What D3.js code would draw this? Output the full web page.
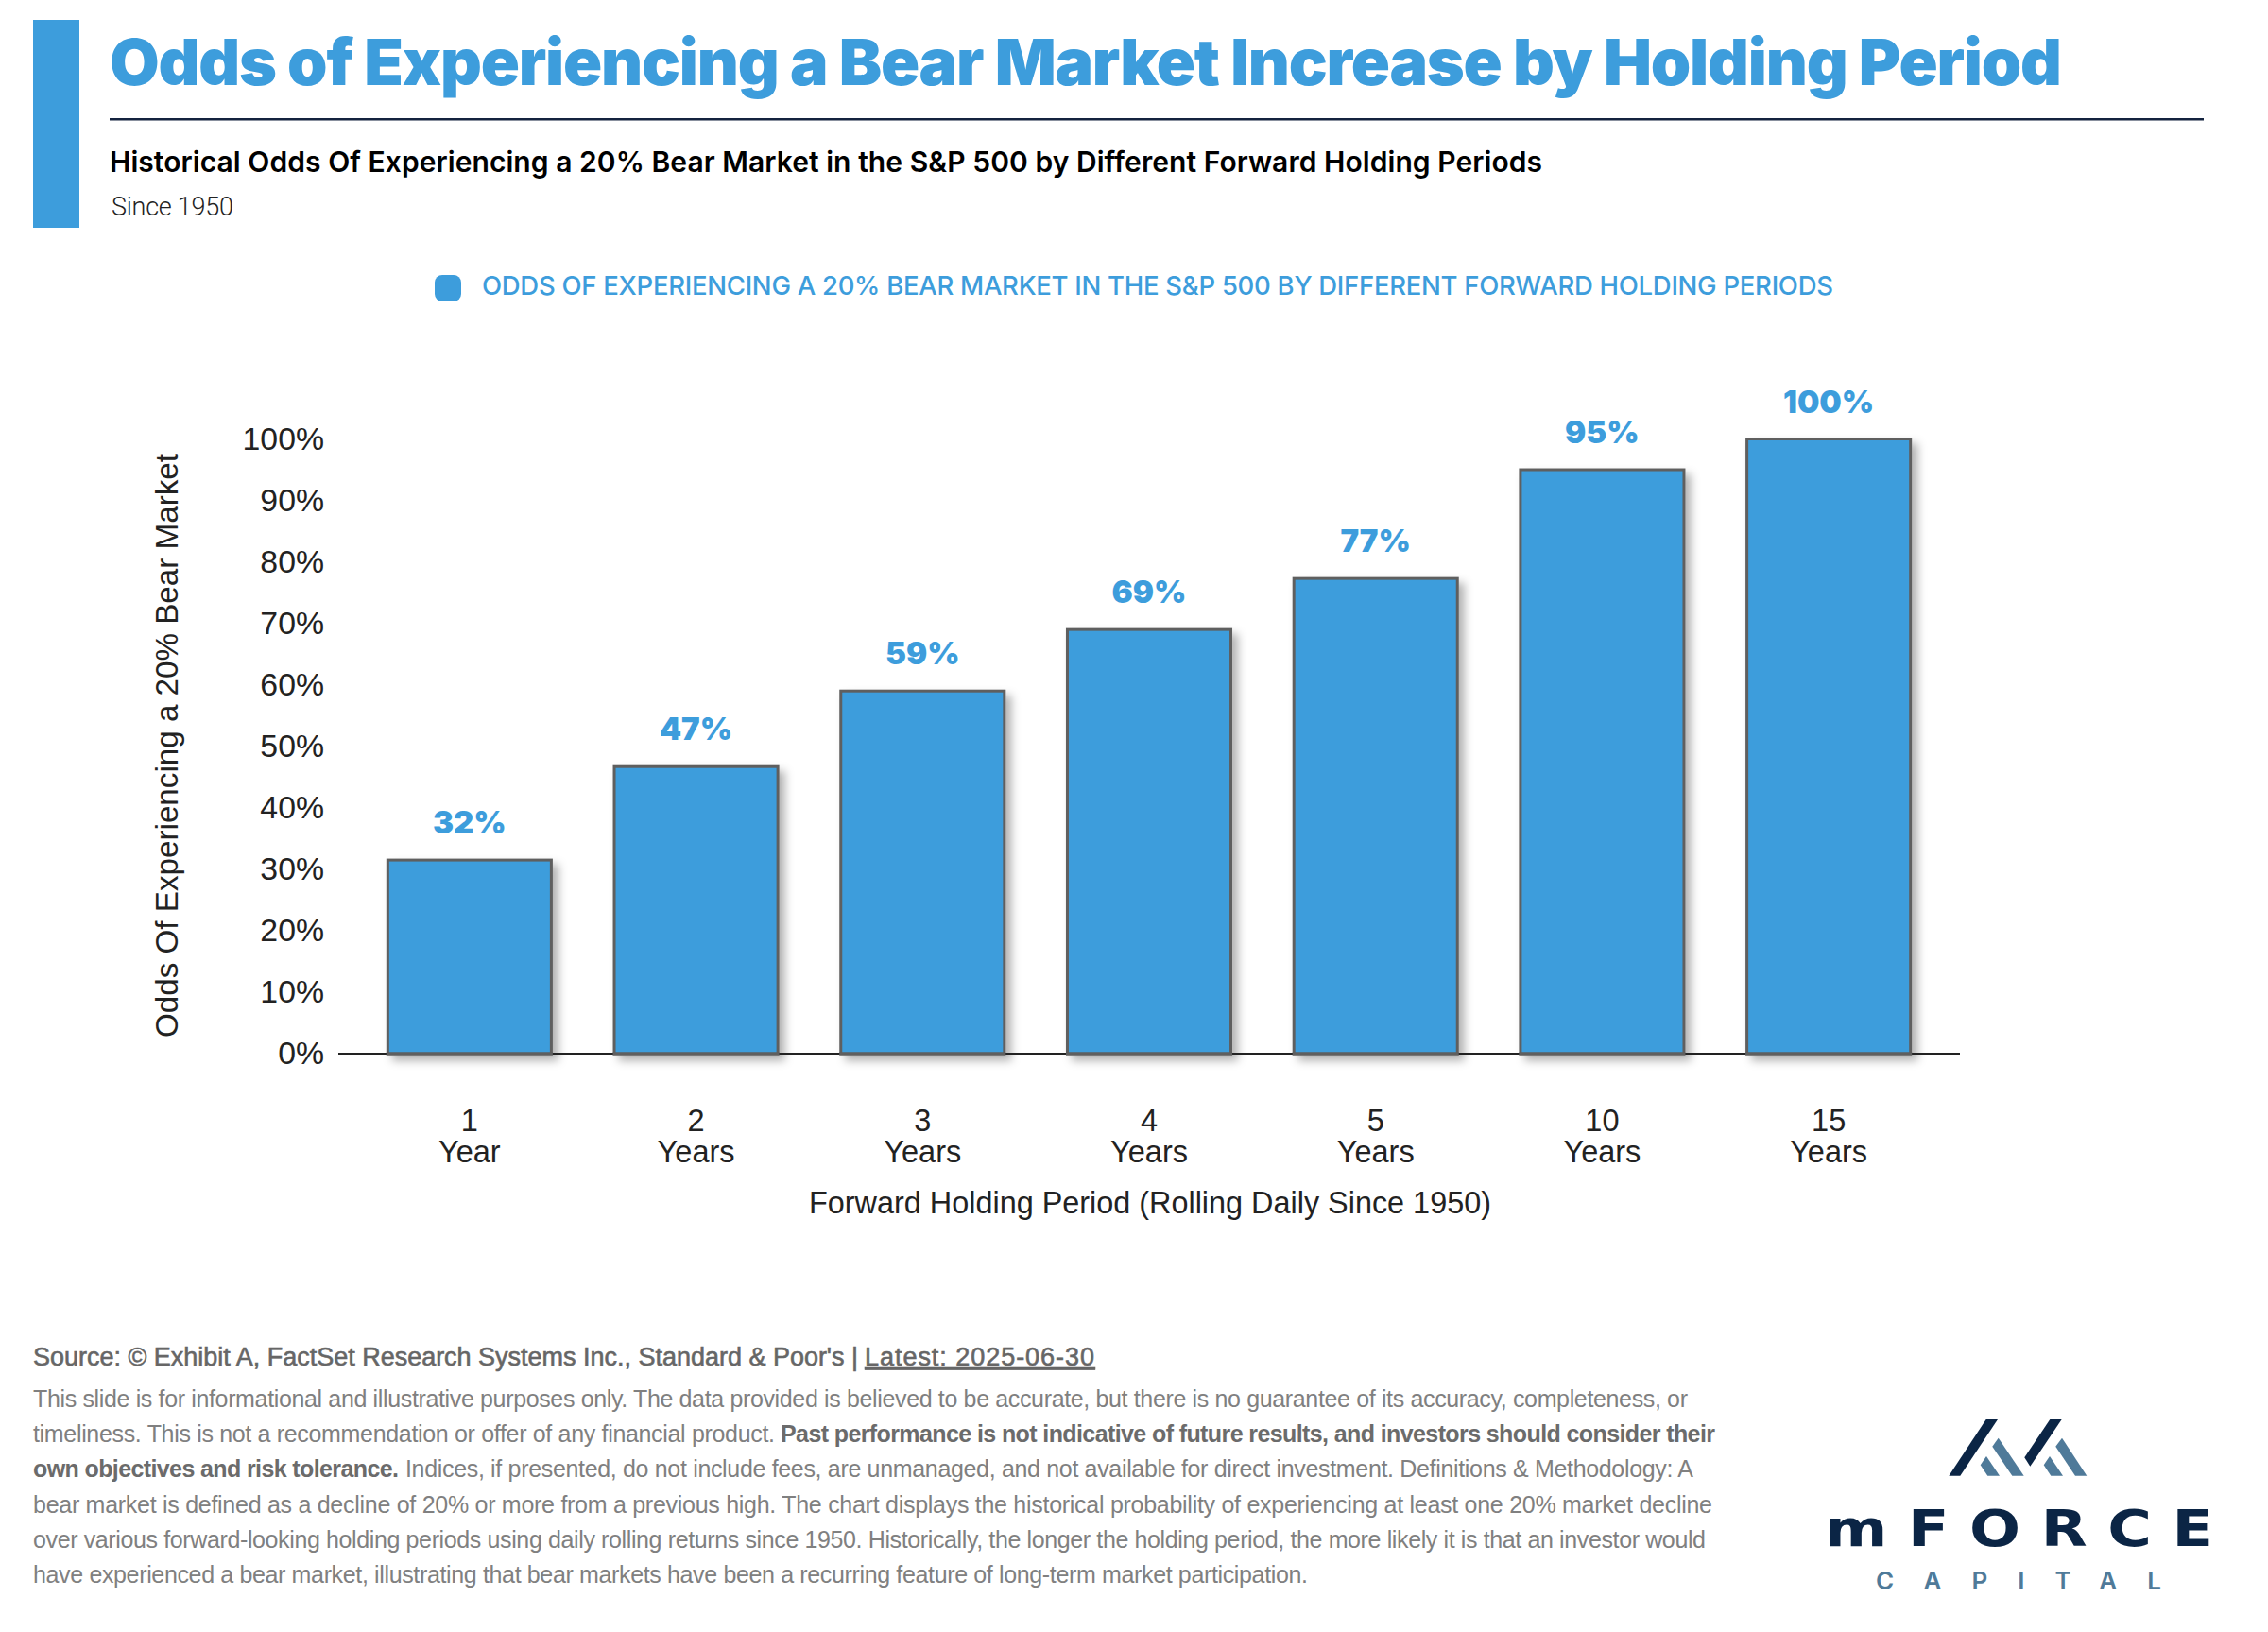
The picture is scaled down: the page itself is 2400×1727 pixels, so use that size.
<!DOCTYPE html>
<html>
<head>
<meta charset="utf-8">
<script src="https://cdn.jsdelivr.net/npm/d3@7"></script>
<style>
  html, body { margin: 0; padding: 0; background: #fff; }
  svg { display: block; }
  text { font-family: "Liberation Sans", sans-serif; }
</style>
</head>
<body>
<div id="visualization"></div>
<script>
const periods = ["1", "2", "3", "4", "5", "10", "15"];
const periodUnits = ["Year", "Years", "Years", "Years", "Years", "Years", "Years"];
const odds = [31.5, 46.7, 59, 69, 77.3, 95, 100];
const yTicks = [0, 10, 20, 30, 40, 50, 60, 70, 80, 90, 100];

const titleText = "Odds of Experiencing a Bear Market Increase by Holding Period";
const subtitleText = "Historical Odds Of Experiencing a 20% Bear Market in the S&P 500 by Different Forward Holding Periods";
const legendText = "ODDS OF EXPERIENCING A 20% BEAR MARKET IN THE S&P 500 BY DIFFERENT FORWARD HOLDING PERIODS";

// each footnote line: [text, bold, x where the run starts, x where it ends]
const footnote = [
  [["This slide is for informational and illustrative purposes only. The data provided is believed to be accurate, but there is no guarantee of its accuracy, completeness, or", false, 35, 1786]],
  [["timeliness. This is not a recommendation or offer of any financial product.", false, 35, 820], ["Past performance is not indicative of future results, and investors should consider their", true, 826, 1815]],
  [["own objectives and risk tolerance.", true, 35, 422], ["Indices, if presented, do not include fees, are unmanaged, and not available for direct investment. Definitions & Methodology: A", false, 429, 1792]],
  [["bear market is defined as a decline of 20% or more from a previous high. The chart displays the historical probability of experiencing at least one 20% market decline", false, 35, 1812]],
  [["over various forward-looking holding periods using daily rolling returns since 1950. Historically, the longer the holding period, the more likely it is that an investor would", false, 35, 1805]],
  [["have experienced a bear market, illustrating that bear markets have been a recurring feature of long-term market participation.", false, 35, 1384]]
];

const blue = "#3d9ddc";
const navy = "#0b2545";
const steel = "#4f7a99";

const svg = d3.select("#visualization").append("svg")
  .attr("width", 2400)
  .attr("height", 1727);

const defs = svg.append("defs");
const shadow = defs.append("filter").attr("id", "barShadow")
  .attr("x", "-10%").attr("y", "-10%").attr("width", "125%").attr("height", "125%");
shadow.append("feDropShadow")
  .attr("dx", 6).attr("dy", 6).attr("stdDeviation", 5)
  .attr("flood-color", "#000").attr("flood-opacity", 0.3);

// squeeze or stretch a text to end at the x
function fit(sel, width) {
  const node = sel.node();
  const extra = (width - node.getComputedTextLength()) / (node.textContent.length - 1);
  sel.style("letter-spacing", extra + "px");
  return sel;
}

// Header
svg.append("rect").attr("x", 35).attr("y", 21).attr("width", 49).attr("height", 220).attr("fill", blue);

svg.append("text").attr("x", 116).attr("y", 90)
  .style("font-family", "Inter").style("font-weight", 900).style("font-size", "68px")
  .attr("fill", blue).text(titleText).call(fit, 2066);

svg.append("rect").attr("x", 116).attr("y", 125).attr("width", 2216).attr("height", 2.5).attr("fill", "#14233f");

svg.append("text").attr("x", 116).attr("y", 182)
  .style("font-family", "Inter").style("font-weight", 600).style("font-size", "30px")
  .attr("fill", "#000").text(subtitleText).call(fit, 1516);

svg.append("text").attr("x", 118).attr("y", 228)
  .style("font-family", "Roboto").style("font-weight", 300).style("font-size", "27px")
  .attr("fill", "#222").text("Since 1950").call(fit, 129);

// Legend
svg.append("rect").attr("x", 460).attr("y", 291).attr("width", 28).attr("height", 28).attr("rx", 8).attr("fill", blue);
svg.append("text").attr("x", 510).attr("y", 312)
  .style("font-family", "Inter").style("font-size", "27.5px").style("font-weight", 500)
  .attr("fill", blue)
  .text(legendText).call(fit, 1430);

// Chart
const x = d3.scaleBand()
  .domain(periods)
  .range([377, 2055])
  .paddingInner(0.278)
  .paddingOuter(0.139);

const y = d3.scaleLinear()
  .domain([0, 100])
  .range([1115, 464.5]);

const yAxis = d3.axisLeft(y)
  .tickValues(yTicks)
  .tickFormat(d => d + "%")
  .tickSize(0)
  .tickPadding(0);

const yAxisG = svg.append("g")
  .attr("class", "y axis")
  .attr("transform", "translate(343,0)")
  .call(yAxis);
yAxisG.select(".domain").remove();
yAxisG.selectAll("text")
  .style("font-family", "Liberation Sans, sans-serif").style("font-size", "33.8px").attr("fill", "#222");

svg.selectAll(".bar")
  .data(odds)
  .enter().append("rect")
  .attr("class", "bar")
  .attr("x", (d, i) => x(periods[i]))
  .attr("y", d => y(d))
  .attr("width", x.bandwidth())
  .attr("height", d => y(0) - y(d))
  .attr("fill", blue)
  .attr("stroke", "#5f5f5f")
  .attr("stroke-width", 3)
  .attr("filter", "url(#barShadow)");

svg.append("line")
  .attr("x1", 358).attr("x2", 2074)
  .attr("y1", y(0)).attr("y2", y(0))
  .attr("stroke", "#222").attr("stroke-width", 2);

// redraw the bar bottoms over the axis line
svg.selectAll(".bar-foot")
  .data(odds)
  .enter().append("line")
  .attr("x1", (d, i) => x(periods[i]) - 1.5)
  .attr("x2", (d, i) => x(periods[i]) + x.bandwidth() + 1.5)
  .attr("y1", y(0)).attr("y2", y(0))
  .attr("stroke", "#5f5f5f").attr("stroke-width", 3);

svg.selectAll(".value")
  .data(odds)
  .enter().append("text")
  .attr("class", "value")
  .attr("x", (d, i) => x(periods[i]) + x.bandwidth() / 2)
  .attr("y", d => y(d) - 28)
  .attr("text-anchor", "middle")
  .style("font-family", "Inter").style("font-weight", 900).style("font-size", "33px")
  .attr("fill", blue)
  .text(d => Math.round(d) + "%");

const xLabels = svg.selectAll(".x-label")
  .data(periods)
  .enter().append("text")
  .attr("class", "x-label")
  .attr("text-anchor", "middle")
  .style("font-size", "32.5px")
  .attr("fill", "#222");
xLabels.append("tspan")
  .attr("x", d => x(d) + x.bandwidth() / 2)
  .attr("y", 1197)
  .text(d => d);
xLabels.append("tspan")
  .attr("x", d => x(d) + x.bandwidth() / 2)
  .attr("y", 1230)
  .text((d, i) => periodUnits[i]);

svg.append("text")
  .attr("x", 1217).attr("y", 1284)
  .attr("text-anchor", "middle")
  .style("font-size", "32.4px").attr("fill", "#222")
  .text("Forward Holding Period (Rolling Daily Since 1950)");

svg.append("text")
  .attr("transform", "translate(188,789) rotate(-90)")
  .attr("text-anchor", "middle")
  .style("font-size", "33.2px").attr("fill", "#222")
  .text("Odds Of Experiencing a 20% Bear Market");

// Footer
svg.append("text").attr("x", 35).attr("y", 1445)
  .style("font-size", "27px")
  .attr("fill", "#666").attr("stroke", "#666").attr("stroke-width", 0.6)
  .text("Source: © Exhibit A, FactSet Research Systems Inc., Standard & Poor's |")
  .call(fit, 873);
svg.append("text").attr("x", 915).attr("y", 1445)
  .style("font-size", "27px").style("text-decoration", "underline")
  .attr("fill", "#666").attr("stroke", "#666").attr("stroke-width", 0.6)
  .text("Latest: 2025-06-30")
  .call(fit, 243);

footnote.forEach((runs, i) => {
  const line = svg.append("text")
    .attr("y", 1489 + i * 37.2)
    .style("font-size", "25px");
  runs.forEach(r => {
    const run = line.append("tspan")
      .attr("x", r[2])
      .style("font-weight", r[1] ? 700 : 400)
      .attr("fill", r[1] ? "#6b6b6b" : "#808080")
      .text(r[0]);
    const len = run.node().getComputedTextLength();
    run.style("letter-spacing", (r[3] - r[2] - len) / (r[0].length - 1) + "px");
  });
});

// Logo
const polygon = d3.line();
const logoDark = [
  [[2062.3, 1561.7], [2074.3, 1561.7], [2114, 1502], [2101.7, 1502]],
  [[2142.3, 1542.3], [2148.3, 1551.7], [2181.7, 1502], [2169.3, 1502]]
];
const logoLight = [
  [[2108.3, 1530.7], [2114.7, 1521.7], [2141.7, 1561.7], [2129.3, 1561.7]],
  [[2095.7, 1550.3], [2102, 1541], [2116, 1561.7], [2103.3, 1561.7]],
  [[2175.3, 1530.7], [2182, 1521.7], [2208.3, 1561.7], [2196, 1561.7]],
  [[2162.7, 1550.3], [2169, 1541], [2183, 1561.7], [2170.3, 1561.7]]
];
svg.selectAll(".logo-dark").data(logoDark).enter().append("path")
  .attr("d", d => polygon(d) + "Z").attr("fill", navy);
svg.selectAll(".logo-light").data(logoLight).enter().append("path")
  .attr("d", d => polygon(d) + "Z").attr("fill", steel);

// wider glyphs than any installed font has, so stretch the word sideways
svg.append("text")
  .attr("transform", "translate(1931,1636) scale(1.2,1)")
  .style("font-family", "DejaVu Sans").style("font-weight", 700).style("font-size", "53px")
  .attr("fill", navy).text("mFORCE").call(fit, 411 / 1.2);

svg.append("text").attr("x", 1985).attr("y", 1682)
  .style("font-family", "Inter").style("font-weight", 600).style("font-size", "26px")
  .attr("fill", steel).text("CAPITAL").call(fit, 302);
</script>
</body>
</html>
